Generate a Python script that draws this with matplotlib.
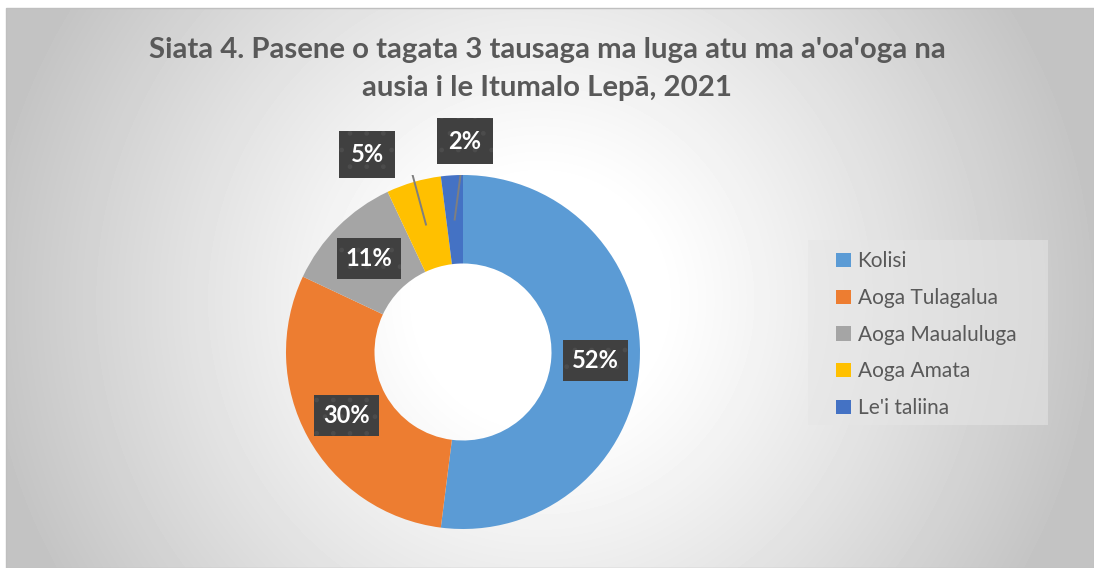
import numpy as np
import matplotlib.pyplot as plt
from matplotlib.patches import Patch, Rectangle

plt.rcParams['font.family'] = ['Lato', 'DejaVu Sans']

# Data
categories = ['Kolisi', 'Aoga Tulagalua', 'Aoga Maualuluga', 'Aoga Amata', "Le'i taliina"]
values = [52, 30, 11, 5, 2]
labels = ['52%', '30%', '11%', '5%', '2%']
colours = ['#5B9BD5', '#ED7D31', '#A5A5A5', '#FFC000', '#4472C4']
title_lines = ["Siata 4. Pasene o tagata 3 tausaga ma luga atu ma a'oa'oga na",
               "ausia i le Itumalo Lepā, 2021"]

W, H = 1094, 568
fig = plt.figure(figsize=(W / 100, H / 100), dpi=100)

# background with a radial grey gradient
bg = fig.add_axes([0, 0, 1, 1])
bg.set_xlim(0, W)
bg.set_ylim(H, 0)
bg.axis('off')
x0, y0 = 6, 8
xx, yy = np.meshgrid(np.arange(x0, W), np.arange(y0, H))
rr = np.hypot(xx - 540, yy - 300)
t = np.clip((rr - 120) / 440, 0, 1)
shade = 1 - 0.235 * t ** 1.1
bg.imshow(shade, cmap='gray', vmin=0, vmax=1, extent=(x0, W, H, y0),
          interpolation='bilinear', aspect='auto')
bg.add_patch(Rectangle((x0, y0), W - x0, H - y0, fill=False,
                       edgecolor='#BFBFBF', linewidth=1))
# legend background
bg.add_patch(Rectangle((808, 240), 240, 185, facecolor='#E6E6E6',
                       edgecolor='none', alpha=0.55))

# title
for k, yline in enumerate([50, 88]):
    fig.text(0.5, 1 - yline / H, title_lines[k], ha='center', va='center',
             fontsize=21.2, fontweight='bold', color='#595959')

# donut
pcx, pcy, r = 463, 352, 177
ax = fig.add_axes([(pcx - r) / W, (H - pcy - r) / H, 2 * r / W, 2 * r / H])
wedges, _ = ax.pie(values, colors=colours, startangle=90, counterclock=False,
                   radius=1, wedgeprops=dict(width=0.5, linewidth=0))
ax.set_xlim(-1, 1)
ax.set_ylim(-1, 1)
ax.axis('off')

# label positions: ring middle, except the two small slices moved outside
outside = {3: (-0.542, 1.115, -0.316), 4: (0.011, 1.192, None)}
for i, w in enumerate(wedges):
    ang = np.deg2rad((w.theta1 + w.theta2) / 2)
    rx, ry = 0.75 * np.cos(ang), 0.75 * np.sin(ang)
    if i in outside:
        tx, ty, bend = outside[i]
        if bend is None:
            ax.plot([tx, rx], [ty, ry], color='#7F7F7F', lw=1.4, zorder=3)
        else:
            ax.plot([tx, bend, rx], [ty, ty, ry], color='#7F7F7F', lw=1.4, zorder=3)
    else:
        tx, ty = rx, ry
    pad = 0.38 if len(labels[i]) > 2 else 0.5
    box = dict(boxstyle=f'square,pad={pad}', facecolor='#404040',
               edgecolor='#4C4C4C', hatch='.', linewidth=0)
    ax.text(tx, ty, labels[i], ha='center', va='center', fontsize=17,
            fontweight='bold', color='white', bbox=box, zorder=5)

# legend
handles = [Patch(facecolor=c, edgecolor='none') for c in colours]
fig.legend(handles, categories, loc='upper left',
           bbox_to_anchor=(828 / W, 1 - 243 / H), frameon=False,
           fontsize=15, labelcolor='#595959', handlelength=0.68,
           handleheight=0.68, handletextpad=0.34, labelspacing=0.8,
           borderaxespad=0)

fig.savefig('out.png', dpi=100)
